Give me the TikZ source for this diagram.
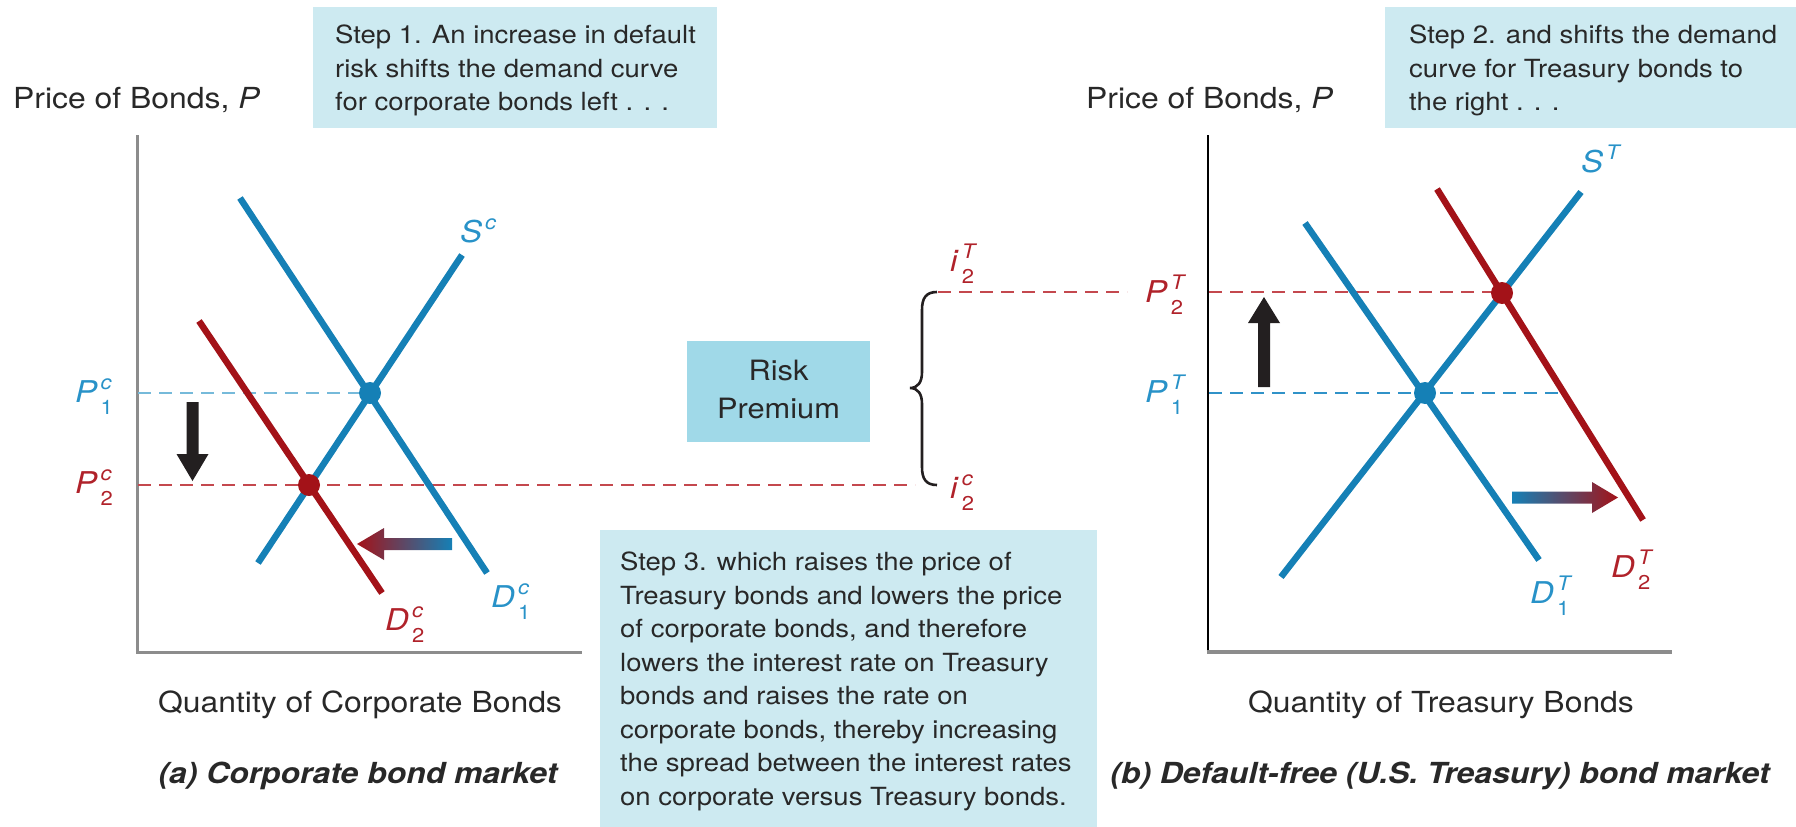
\documentclass[tikz,border=0pt]{standalone}
\usepackage{fontspec}
\setmainfont[FakeStretch=1.1]{TeX Gyre Heros}
\usetikzlibrary{shadings}
\definecolor{cblue}{RGB}{21,128,182}
\definecolor{cred}{RGB}{163,18,24}
\definecolor{lblue}{RGB}{40,146,200}
\definecolor{lred}{RGB}{176,34,42}
\definecolor{dblue}{RGB}{118,186,218}
\definecolor{dblueb}{RGB}{48,146,200}
\definecolor{dred}{RGB}{196,72,78}
\definecolor{boxc}{RGB}{205,234,241}
\definecolor{riskc}{RGB}{160,217,232}
\definecolor{textc}{RGB}{40,40,40}
\definecolor{axisg}{RGB}{140,140,140}
\definecolor{arrk}{RGB}{35,31,32}
\newcommand\scf{\fontsize{20}{20}\selectfont}
\newcommand\sslab[3]{\textit{#1}\kern3pt\rlap{\raisebox{13pt}{\scf\textit{#2}}}\raisebox{-12pt}{\scf #3}}
\newcommand\suplab[2]{\textit{#1}\kern3pt\raisebox{13pt}{\scf\textit{#2}}}
\begin{document}
\begin{tikzpicture}[x=1pt,y=-1pt,
  boxtxt/.style={text=textc, inner sep=0pt, align=left, anchor=north west, font=\fontsize{25}{33.5}\selectfont},
  axtxt/.style={text=textc, inner sep=0pt, font=\fontsize{29}{33}\selectfont},
  captxt/.style={text=textc, inner sep=0pt, font=\fontsize{29}{33}\selectfont\bfseries\itshape},
  blab/.style={text=lblue, inner sep=0pt, anchor=base west, font=\fontsize{30}{30}\selectfont},
  rlab/.style={text=lred, inner sep=0pt, anchor=base west, font=\fontsize{30}{30}\selectfont},
  curve/.style={line width=6.5pt},
  dashline/.style={line width=2.8pt, dash pattern=on 13pt off 8pt},
  dot/.style={radius=11pt}]
\useasboundingbox (0,0) rectangle (1796,827);

% boxes
\fill[boxc] (313,7) rectangle (717,128);
\fill[boxc] (1385,7) rectangle (1796,128);
\fill[boxc] (600,530) rectangle (1097,827);
\fill[riskc] (687,341) rectangle (870,442);

\node[boxtxt] (step1) at (335,25) {Step 1. An increase in default\\risk shifts the demand curve\\for corporate bonds left . . .};
\node[boxtxt] (step2) at (1409,25) {Step 2. and shifts the demand\\curve for Treasury bonds to\\the right . . .};
\node[boxtxt] (step3) at (620,552) {Step 3. which raises the price of\\Treasury bonds and lowers the price\\of corporate bonds, and therefore\\lowers the interest rate on Treasury\\bonds and raises the rate on\\corporate bonds, thereby increasing\\the spread between the interest rates\\on corporate versus Treasury bonds.};
\node[text=textc, inner sep=0pt, align=center, font=\fontsize{28}{38}\selectfont] (risk) at (778.5,389) {Risk\\Premium};

% axis titles
\node[axtxt, anchor=base west] (ylabA) at (13,108) {Price of Bonds, \textit{P}};
\node[axtxt, anchor=base west] (ylabB) at (1086,108) {Price of Bonds, \textit{P}};
\node[axtxt, anchor=base] (xlabA) at (360,712) {Quantity of Corporate Bonds};
\node[axtxt, anchor=base] (xlabB) at (1441,712) {Quantity of Treasury Bonds};
\node[captxt, anchor=base] (capA) at (358,783) {(a) Corporate bond market};
\node[captxt, anchor=base] (capB) at (1440,783) {(b) Default-free (U.S. Treasury) bond market};

% axes
\draw[axisg, line width=3pt] (137,135) -- (137,652) -- (582,652);
\draw[black, line width=1.4pt] (1208,135) -- (1208,652);
\draw[axisg, line width=3.5pt] (1206.6,652) -- (1672,652);

% dashed guides
\draw[dashline, dblue] (138,393) -- (370,393);
\draw[dashline, dred] (138,485) -- (915,485);
\draw[dashline, dred] (938,292) -- (1127,292);
\draw[dashline, dred] (1209,292) -- (1502,292);
\draw[dashline, dblueb] (1209,393) -- (1559,393);

% brace
\draw[arrk, line width=2.6pt] (937,292) .. controls (926,292) and (922,298) .. (922,310) -- (922,372) .. controls (922,382) and (918,388) .. (910,388) .. controls (918,388) and (922,394) .. (922,404) -- (922,467) .. controls (922,479) and (926,485) .. (937,485);

% curves left
\draw[curve, cblue] (240,198) -- (487,573);
\draw[curve, cblue] (258,563) -- (462,255);
\draw[curve, cred] (199,321) -- (382,593);
% curves right
\draw[curve, cblue] (1305,223) -- (1539,560);
\draw[curve, cblue] (1281,577) -- (1581,192);
\draw[curve, cred] (1437,189) -- (1643,520);

% equilibrium dots
\fill[cblue] (370,393) circle[dot];
\fill[cred] (309,485) circle[dot];
\fill[cblue] (1425,393) circle[dot];
\fill[cred] (1502,293) circle[dot];

% black arrows
\fill[arrk] (186.5,402) -- (198.5,402) -- (198.5,454) -- (208.5,454) -- (192.5,481) -- (176.5,454) -- (186.5,454) -- cycle;
\fill[arrk] (1258,387) -- (1270,387) -- (1270,323) -- (1280,323) -- (1264,297) -- (1248,323) -- (1258,323) -- cycle;

% gradient arrows
\shade[left color=cred, right color=cblue] (452,538) -- (384,538) -- (384,528) -- (357,544) -- (384,560) -- (384,550) -- (452,550) -- cycle;
\shade[left color=cblue, right color=cred] (1512,491.5) -- (1592,491.5) -- (1592,482) -- (1618,497.5) -- (1592,513) -- (1592,503.5) -- (1512,503.5) -- cycle;

% labels
\node[blab] (P1c) at (75,402) {\sslab{P}{c}{1}};
\node[rlab] (P2c) at (75,493) {\sslab{P}{c}{2}};
\node[rlab] (D2c) at (385,630) {\sslab{D}{c}{2}};
\node[blab] (D1c) at (491,607) {\sslab{D}{c}{1}};
\node[blab] (Sc) at (460,242) {\suplab{S}{c}};
\node[rlab] (P2T) at (1145,302) {\sslab{P}{T}{2}};
\node[blab] (P1T) at (1145,402) {\sslab{P}{T}{1}};
\node[rlab] (D2T) at (1611,577) {\sslab{D}{T}{2}};
\node[blab] (D1T) at (1530,603) {\sslab{D}{T}{1}};
\node[blab] (ST) at (1581,172) {\suplab{S}{T}};
\node[rlab] (i2T) at (950,271) {\sslab{i}{T}{2}};
\node[rlab] (i2c) at (950,498) {\sslab{i}{c}{2}};
\end{tikzpicture}
\end{document}
